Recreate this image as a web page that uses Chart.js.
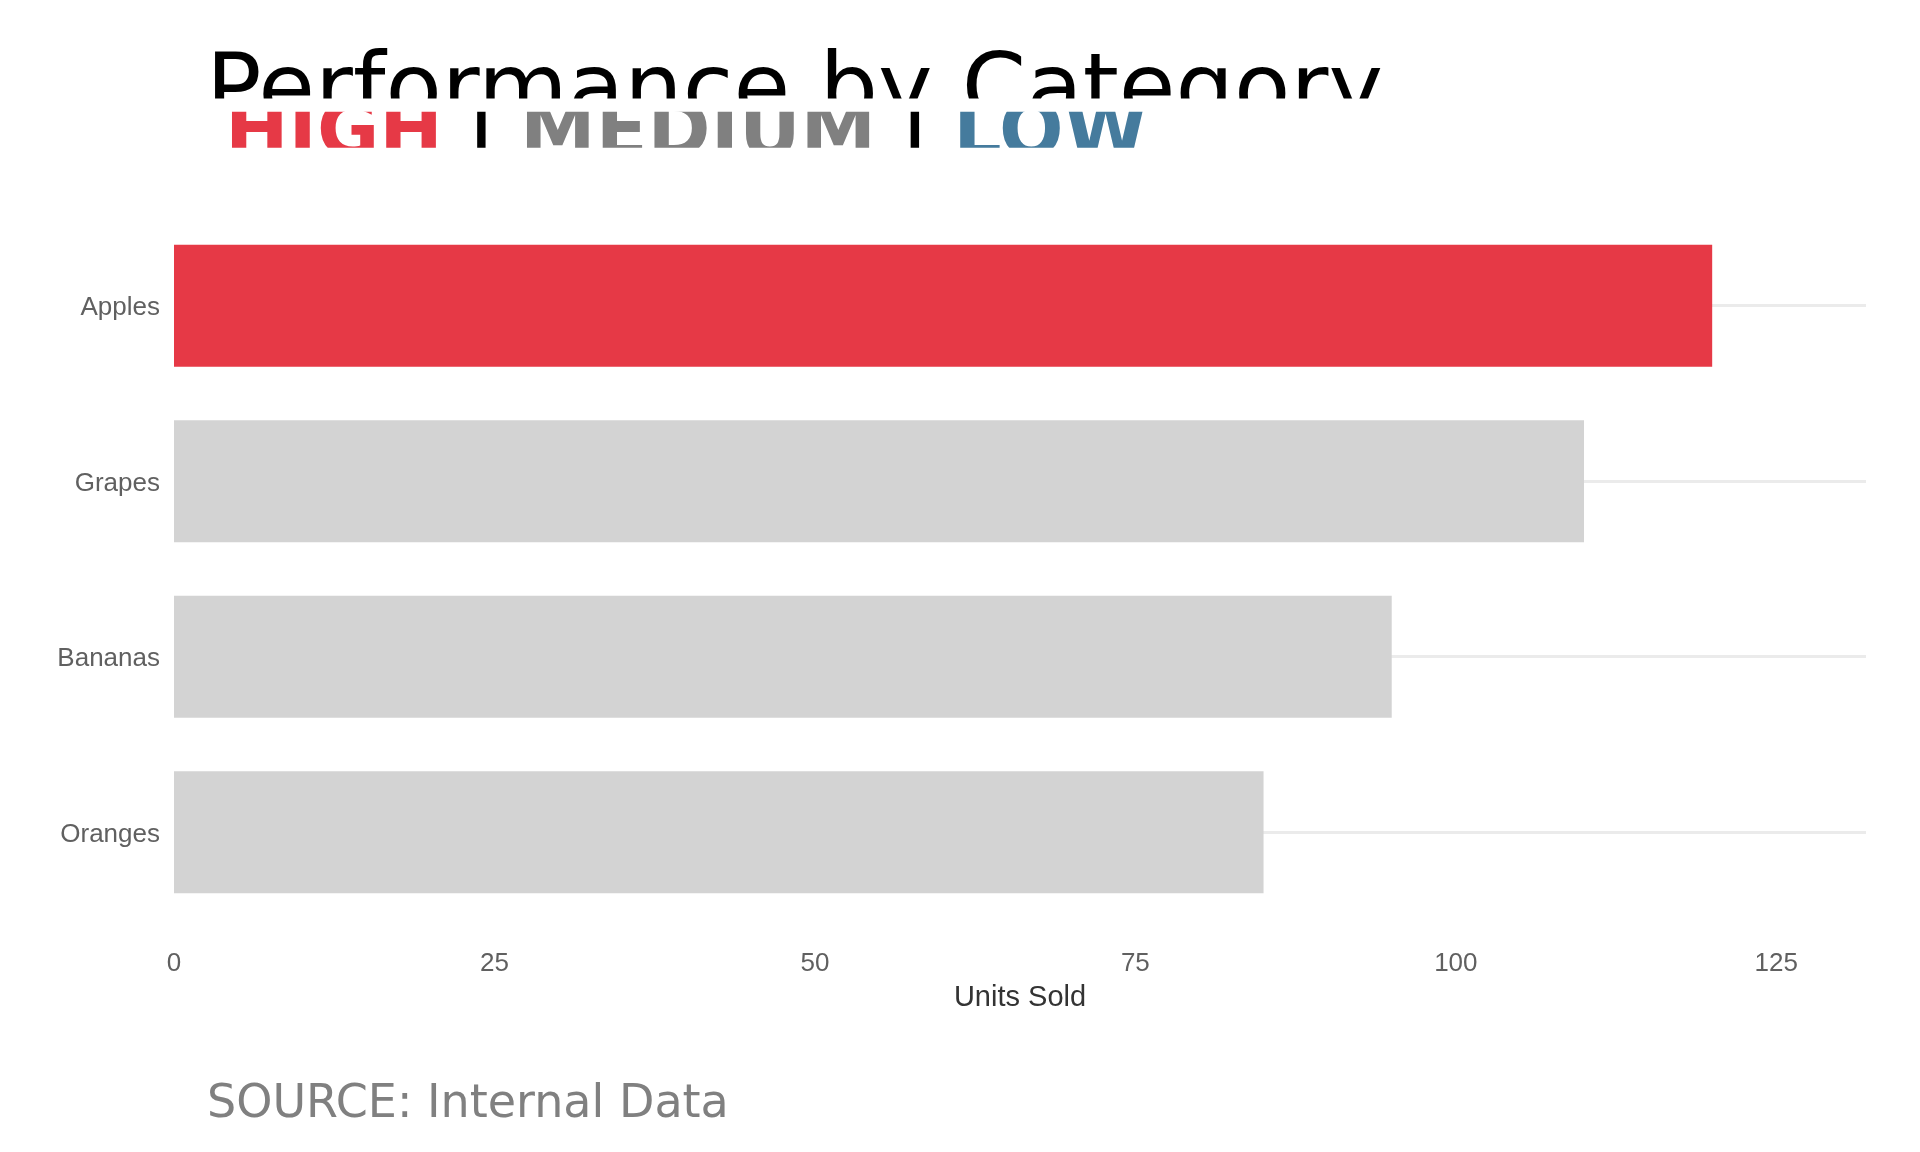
<!DOCTYPE html>
<html>
<head>
<meta charset="utf-8">
<script src="https://cdn.jsdelivr.net/npm/chart.js@4/dist/chart.umd.min.js"></script>
<style>
  html, body { margin: 0; padding: 0; background: #ffffff; }
  #wrap { width: 1920px; height: 1152px; position: relative; }
</style>
</head>
<body>
<div id="wrap"><canvas id="c" width="1920" height="1152"></canvas></div>
<script>
// ---- data ----
const categories = ['Apples', 'Grapes', 'Bananas', 'Oranges'];
const unitsSold = [120, 110, 95, 85];
const xTicks = [0, 25, 50, 75, 100, 125];
const titleText = 'Performance by Category';
const legendParts = ['HIGH', '|', 'MEDIUM', '|', 'LOW'];
const sourceText = 'SOURCE: Internal Data';
const axisTitle = 'Units Sold';

// ---- styles ----
const RED = '#e63946', GREY_BAR = '#d3d3d3', MID = '#808080', BLUE = '#457b9d';
const legendColors = [RED, '#000000', MID, '#000000', BLUE];
// ink anchor: for words = left ink edge, for separators = ink centre
const legendAnchors = [231, 481.5, 526, 915, 959.3];
const maxVal = Math.max(...unitsSold);
const barColors = unitsSold.map(v => v === maxVal ? RED : GREY_BAR);

const textPlugin = {
  id: 'textPlugin',
  afterDraw(chart) {
    const ctx = chart.ctx;
    // Title (clipped at bottom)
    ctx.save();
    ctx.beginPath();
    ctx.rect(0, 0, 1920, 98.5);
    ctx.clip();
    ctx.font = '92.2px "DejaVu Sans"';
    ctx.fillStyle = '#000000';
    ctx.textBaseline = 'alphabetic';
    ctx.textAlign = 'left';
    ctx.fillText(titleText, 206, 119);
    ctx.restore();

    // Subtitle legend (clipped band)
    ctx.save();
    ctx.beginPath();
    ctx.rect(0, 111.7, 1920, 36);
    ctx.clip();
    ctx.font = 'bold 76px "DejaVu Sans"';
    ctx.textBaseline = 'alphabetic';
    ctx.textAlign = 'left';
    legendParts.forEach((p, i) => {
      const m = ctx.measureText(p);
      let x;
      if (p === '|') {
        x = legendAnchors[i] - (m.actualBoundingBoxRight - m.actualBoundingBoxLeft) / 2;
      } else {
        x = legendAnchors[i] + m.actualBoundingBoxLeft;
      }
      ctx.fillStyle = legendColors[i];
      ctx.fillText(p, x, 156);
    });
    ctx.restore();

    // Source
    ctx.save();
    ctx.font = '46px "DejaVu Sans"';
    ctx.fillStyle = '#808080';
    ctx.textBaseline = 'alphabetic';
    ctx.textAlign = 'left';
    ctx.fillText(sourceText, 207, 1117);
    ctx.restore();
  }
};

new Chart(document.getElementById('c'), {
  type: 'bar',
  data: {
    labels: categories,
    datasets: [{
      data: unitsSold,
      backgroundColor: barColors,
      borderWidth: 0,
      barPercentage: 0.694,
      categoryPercentage: 1.0
    }]
  },
  options: {
    indexAxis: 'y',
    responsive: false,
    animation: false,
    devicePixelRatio: 1,
    layout: { padding: { left: 0, right: 54, top: 218, bottom: 136.5 } },
    plugins: { legend: { display: false }, tooltip: { enabled: false }, title: { display: false } },
    scales: {
      x: {
        type: 'linear',
        min: 0,
        max: 132,
        afterBuildTicks(scale) { scale.ticks = xTicks.map(v => ({ value: v })); },
        afterFit(scale) { scale.height = 95.5; },
        grid: { display: false, drawTicks: false },
        border: { display: false },
        ticks: {
          padding: 28,
          color: '#606060',
          font: { family: '"Liberation Sans", Arial, sans-serif', size: 26 }
        },
        title: {
          display: true,
          text: axisTitle,
          color: '#333333',
          padding: { top: 0, bottom: 0 },
          font: { family: '"Liberation Sans", Arial, sans-serif', size: 29 }
        }
      },
      y: {
        afterFit(scale) { scale.width = 174; },
        grid: { display: true, offset: false, drawTicks: false, color: '#ebebeb', lineWidth: 3 },
        border: { display: false },
        ticks: {
          padding: 14,
          labelOffset: 2.5,
          color: '#606060',
          font: { family: '"Liberation Sans", Arial, sans-serif', size: 26 }
        }
      }
    }
  },
  plugins: [textPlugin]
});
</script>
</body>
</html>
